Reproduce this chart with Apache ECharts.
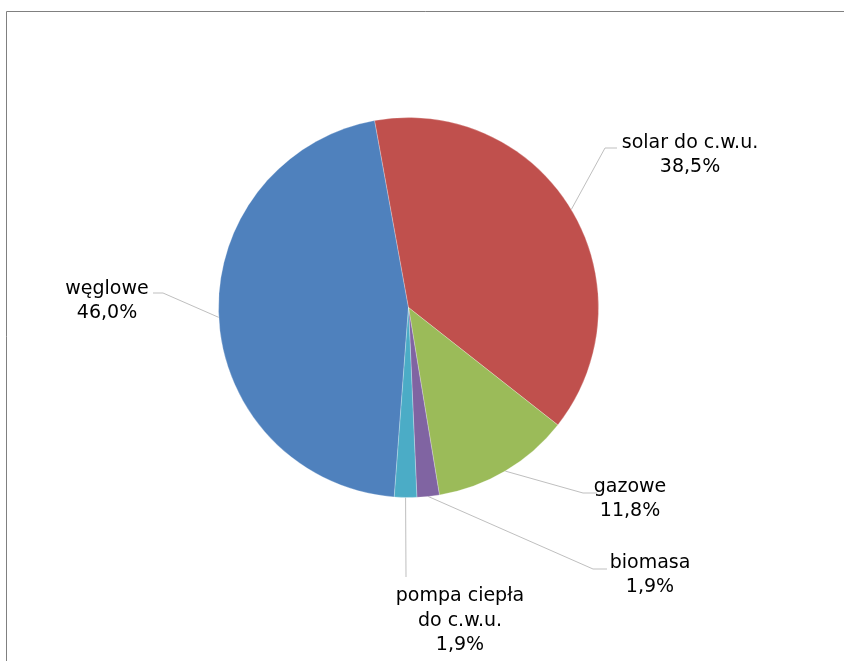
<!DOCTYPE html>
<html>
<head>
<meta charset="utf-8">
<script src="https://cdn.jsdelivr.net/npm/echarts@6/dist/echarts.min.js"></script>
<style>
html,body{margin:0;padding:0;background:#fff;}
#chart{width:844px;height:661px;}
</style>
</head>
<body>
<div id="chart"></div>
<script>
// Data
var categories = ['węglowe', 'solar do c.w.u.', 'gazowe', 'biomasa', 'pompa ciepła\ndo c.w.u.'];
var values = [46.0, 38.5, 11.8, 1.9, 1.9];
var colors = ['#4F81BD', '#C0504D', '#9BBB59', '#8064A2', '#4BACC6'];

// Label placement (label centre, leader elbow, leader end) in px
var labelPos = [
  { x: 107, y: 301, elbow: [163, 293], end: [153, 293] },
  { x: 690, y: 155, elbow: [605, 148], end: [617, 148] },
  { x: 630, y: 499, elbow: [583, 493], end: [597, 493] },
  { x: 650, y: 575, elbow: [593, 569], end: [607, 569] },
  { x: 460, y: 621, elbow: [406, 540], end: [406, 577] }
];

var chart = echarts.init(document.getElementById('chart'), null, { renderer: 'canvas' });

var data = categories.map(function (c, i) {
  return { name: c, value: values[i], itemStyle: { color: colors[i] } };
});

chart.setOption({
  animation: false,
  backgroundColor: '#fff',
  graphic: [{
    type: 'rect',
    shape: { x: 6.5, y: 11.5, width: 900, height: 700 },
    style: { fill: 'none', stroke: '#808080', lineWidth: 1 },
    silent: true
  }],
  series: [{
    type: 'pie',
    center: [408.5, 307.5],
    radius: 190,
    startAngle: -94.3,
    clockwise: true,
    data: data,
    itemStyle: { borderColor: 'rgba(255,255,255,0.5)', borderWidth: 0.5 },
    label: {
      show: true,
      position: 'outside',
      formatter: function (p) {
        return p.name + '\n' + p.value.toFixed(1).replace('.', ',') + '%';
      },
      fontFamily: 'DejaVu Sans',
      fontSize: 19,
      lineHeight: 24.5,
      color: '#000',
      align: 'center'
    },
    labelLine: {
      show: true,
      length: 20,
      length2: 10,
      lineStyle: { color: '#bfbfbf', width: 1 }
    },
    labelLayout: function (params) {
      var lp = labelPos[params.dataIndex];
      var start = params.labelLinePoints ? params.labelLinePoints[0] : lp.elbow;
      var pts = params.dataIndex === 4 ? [start, lp.end, lp.end] : [start, lp.elbow, lp.end];
      return {
        x: lp.x,
        y: lp.y,
        align: 'center',
        verticalAlign: 'middle',
        labelLinePoints: pts
      };
    },
    emphasis: { disabled: true }
  }]
});
</script>
</body>
</html>
